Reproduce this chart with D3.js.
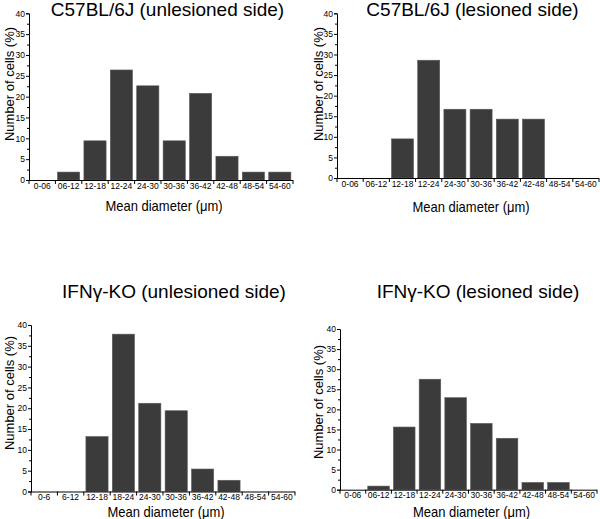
<!DOCTYPE html>
<html>
<head>
<meta charset="utf-8">
<script src="https://cdn.jsdelivr.net/npm/d3@7"></script>
<style>
  body { margin: 0; background: #fff; }
  svg { display: block; font-family: "Liberation Sans", Arial, sans-serif; }
</style>
</head>
<body>
<svg id="chart" width="600" height="519"></svg>
<script>
// ---- data ----
const categoriesA = ["0-06","06-12","12-18","12-24","24-30","30-36","36-42","42-48","48-54","54-60"];
const categoriesB = ["0-6","6-12","12-18","18-24","24-30","30-36","36-42","42-48","48-54","54-60"];
const yTicks = [0, 5, 10, 15, 20, 25, 30, 35, 40];

const titles = ["C57BL/6J (unlesioned side)", "C57BL/6J (lesioned side)", "IFNγ-KO (unlesioned side)", "IFNγ-KO (lesioned side)"];
const valuesC57Unlesioned = [0, 1.9, 9.4, 26.4, 22.6, 9.4, 20.8, 5.7, 1.9, 1.9];
const valuesC57Lesioned   = [0, 0, 9.5, 28.6, 16.7, 16.7, 14.3, 14.3, 0, 0];
const valuesIFNUnlesioned = [0, 0, 13.2, 37.8, 21.2, 19.4, 5.4, 2.7, 0, 0];
const valuesIFNLesioned   = [0, 0.9, 15.6, 27.5, 22.9, 16.5, 12.8, 1.8, 1.8, 0];

const yLabel = "Number of cells (%)";
const xLabel = "Mean diameter (μm)";

// ---- layout ----
const panels = [
  { cats: categoriesA, vals: valuesC57Unlesioned, title: titles[0], x0: 29, x1: 293, yT: 13.3, yB: 180, tx: 167.5, ty: 15.5, ylx: 9, yly: 84, xly: 211 },
  { cats: categoriesA, vals: valuesC57Lesioned,   title: titles[1], x0: 337, x1: 599, yT: 13.3, yB: 178, tx: 472.5, ty: 15.5, ylx: 318, yly: 84, xly: 212 },
  { cats: categoriesB, vals: valuesIFNUnlesioned, title: titles[2], x0: 31, x1: 295, yT: 325, yB: 491.5, tx: 174, ty: 298, ylx: 9, yly: 393, xly: 516.5 },
  { cats: categoriesA, vals: valuesIFNLesioned,   title: titles[3], x0: 340, x1: 597, yT: 329, yB: 489.7, tx: 478, ty: 298, ylx: 318, yly: 402, xly: 516.5 }
];

const svg = d3.select("#chart");
const barColor = "#3b3b3b";
const stretch = 1.15;

panels.forEach(p => {
  const g = svg.append("g");
  const x = d3.scaleBand().domain(p.cats).range([p.x0, p.x1]).paddingInner(0.16).paddingOuter(0.08);
  const xb = d3.scaleBand().domain(p.cats).range([p.x0, p.x1]);
  const y = d3.scaleLinear().domain([0, 40]).range([p.yB, p.yT]);

  // bars
  g.selectAll("rect.bar").data(p.cats.map((c, i) => ({ c, v: p.vals[i] })).filter(d => d.v > 0))
    .enter().append("rect")
    .attr("x", d => x(d.c))
    .attr("y", d => y(d.v))
    .attr("width", x.bandwidth())
    .attr("height", d => y(0) - y(d.v))
    .attr("fill", barColor)
    .attr("stroke", "#5a5a5a")
    .attr("stroke-width", 0.6);

  // y axis
  const yAxis = d3.axisLeft(y).tickValues(yTicks).tickSize(3).tickPadding(1).tickFormat(d3.format("d"));
  const ya = g.append("g").attr("transform", `translate(${p.x0},0)`).call(yAxis);
  ya.select(".domain").attr("stroke", "#000").attr("stroke-width", 1);
  ya.selectAll(".tick line").attr("stroke", "#000");
  ya.selectAll(".tick text").attr("font-size", 8.5).attr("fill", "#000").attr("font-family", "Liberation Sans, Arial, sans-serif");
  // minor ticks
  const minor = d3.range(2.5, 40, 5);
  g.selectAll("line.minor").data(minor).enter().append("line")
    .attr("x1", p.x0 - 2).attr("x2", p.x0)
    .attr("y1", d => y(d) + 0.5).attr("y2", d => y(d) + 0.5)
    .attr("stroke", "#000").attr("stroke-width", 1);

  // x axis: line with ticks at category boundaries
  const bounds = p.cats.map(c => xb(c)).concat([p.x1]);
  const xa = g.append("g").attr("transform", `translate(0,${p.yB})`);
  xa.append("line").attr("x1", p.x0).attr("x2", p.x1).attr("y1", 0.5).attr("y2", 0.5).attr("stroke", "#000");
  xa.selectAll("line.bt").data(bounds).enter().append("line")
    .attr("x1", d => d).attr("x2", d => d).attr("y1", 0).attr("y2", 4).attr("stroke", "#000");
  xa.selectAll("text").data(p.cats).enter().append("text")
    .attr("x", d => xb(d) + xb.bandwidth() / 2)
    .attr("y", 8.5)
    .attr("text-anchor", "middle")
    .attr("font-size", 8.5)
    .attr("fill", "#000")
    .text(d => d);

  // title
  g.append("text").attr("x", p.tx).attr("y", p.ty).attr("text-anchor", "middle")
    .attr("font-size", 19).attr("fill", "#000").text(p.title);

  // axis labels
  g.append("text").attr("transform", `translate(${(p.x0 + p.x1) / 2 + 3},${p.xly}) scale(1,${stretch})`).attr("text-anchor", "middle")
    .attr("font-size", 13).attr("fill", "#000").text(xLabel);
  g.append("text").attr("transform", `translate(${p.ylx + 5},${p.yly}) rotate(-90)`)
    .attr("text-anchor", "middle").attr("font-size", 13).attr("fill", "#000").text(yLabel);
});
</script>
</body>
</html>
